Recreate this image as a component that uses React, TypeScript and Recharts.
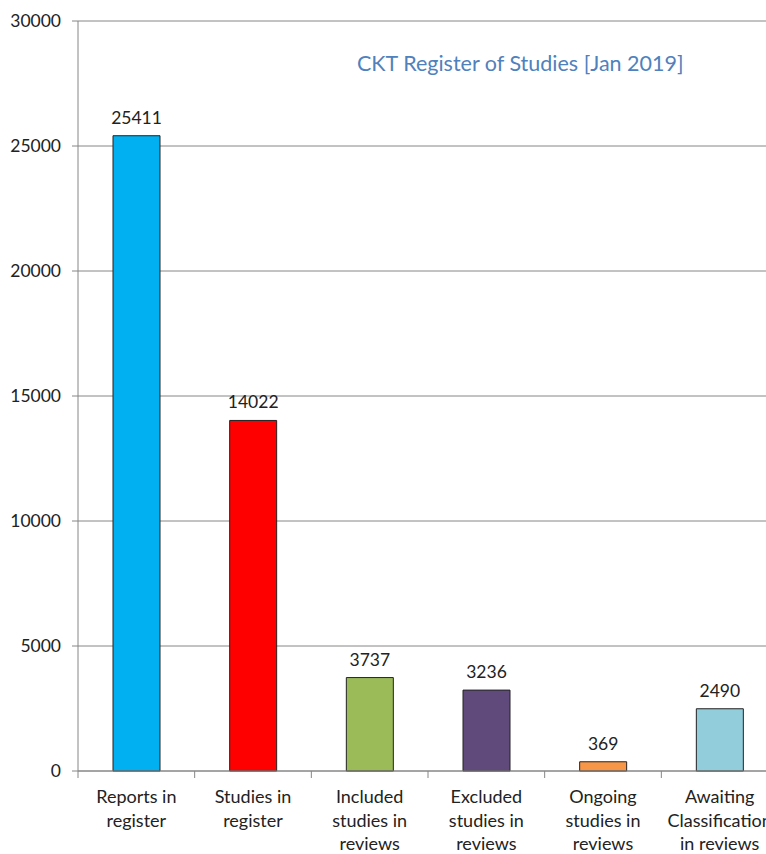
import { BarChart, Bar, XAxis, YAxis, CartesianGrid, Cell, LabelList } from 'recharts';

const categories = [
  'Reports in\nregister',
  'Studies in\nregister',
  'Included\nstudies in\nreviews',
  'Excluded\nstudies in\nreviews',
  'Ongoing\nstudies in\nreviews',
  'Awaiting\nClassification\nin reviews',
];
const counts = [25411, 14022, 3737, 3236, 369, 2490];
const barColors = ['#00B0F0', '#FF0000', '#9BBB59', '#604A7B', '#F79646', '#92CDDC'];
const yTicks = [0, 5000, 10000, 15000, 20000, 25000, 30000];

const data = categories.map((name, i) => ({ name, value: counts[i] }));

const FONT = 'Lato, "Open Sans", sans-serif';
const BAND = 700 / categories.length;

// multi-line category label, with the tick mark drawn on the left category boundary
function CategoryTick(props: any) {
  const { x, y, payload } = props;
  const lines = String(payload.value).split('\n');
  return (
    <g>
      <line x1={x - BAND / 2} x2={x - BAND / 2} y1={771} y2={778} stroke="#868686" />
      <text x={x} y={y} textAnchor="middle" fontSize={18} fontFamily={FONT} fill="#222">
        {lines.map((l, i) => (
          <tspan key={i} x={x} dy={i === 0 ? 24 : 23.5}>{l}</tspan>
        ))}
      </text>
    </g>
  );
}

export default function App() {
  return (
    <div style={{ position: 'absolute', left: 0, top: 0, width: 766, height: 854, overflow: 'hidden', background: '#fff' }}>
      <BarChart
        width={800}
        height={854}
        data={data}
        margin={{ top: 21, right: 22, left: 0, bottom: 0 }}
        barCategoryGap="30%"
      >
        <CartesianGrid vertical={false} stroke="#868686" />
        <XAxis
          dataKey="name"
          interval={0}
          height={83}
          stroke="#868686"
          tickLine={false}
          tick={<CategoryTick />}
        />
        <YAxis
          width={78}
          domain={[0, 30000]}
          ticks={yTicks}
          interval={0}
          stroke="#868686"
          tickSize={6}
          tickMargin={11}
          tick={{ fontSize: 17.5, fontFamily: FONT, fill: '#222' }}
        />
        <Bar dataKey="value" stroke="#222" strokeWidth={1} isAnimationActive={false}>
          {data.map((d, i) => (
            <Cell key={d.name} fill={barColors[i]} />
          ))}
          <LabelList dataKey="value" position="top" offset={12} fontSize={17.5} fontFamily={FONT} fill="#222" />
        </Bar>
      </BarChart>
      <div
        style={{
          position: 'absolute',
          left: 357,
          top: 50,
          fontFamily: FONT,
          fontSize: 21.5,
          color: '#4F81BD',
          whiteSpace: 'nowrap',
        }}
      >
        CKT Register of Studies [Jan 2019]
      </div>
    </div>
  );
}
